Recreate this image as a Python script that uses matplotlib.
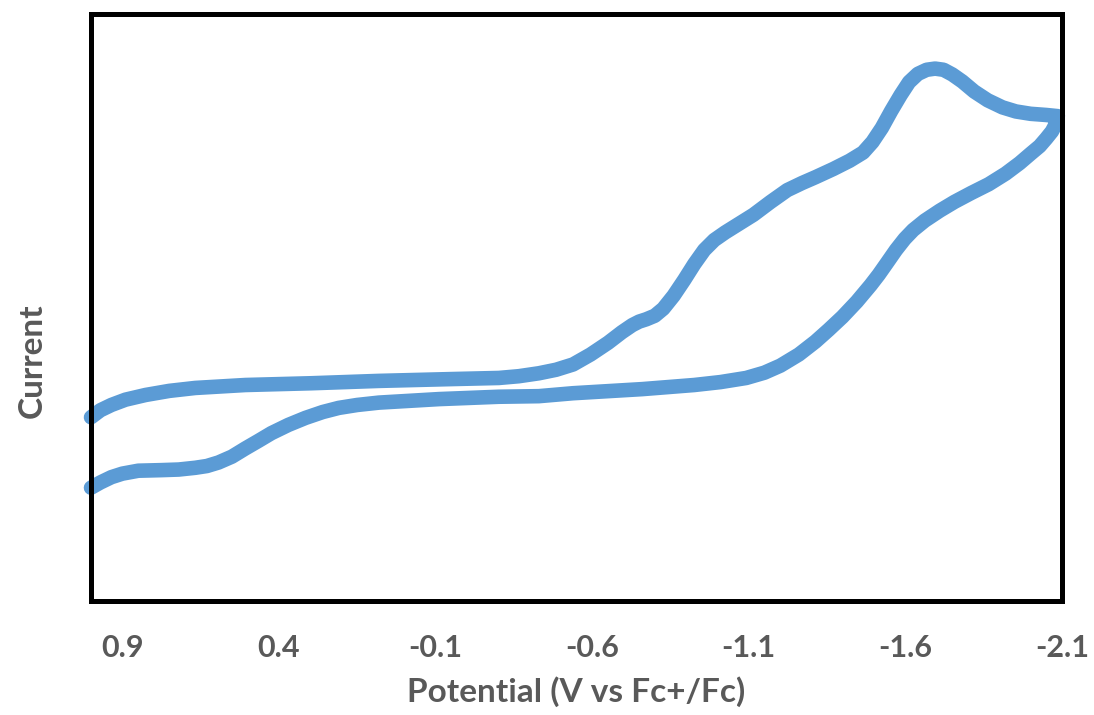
import matplotlib
matplotlib.use("Agg")
import matplotlib.pyplot as plt

# cyclic voltammogram, scan 1.0 V -> -2.09 V and back
potential_fwd = [1.0, 0.97, 0.935, 0.89, 0.826, 0.75, 0.667, 0.507, 0.296, 0.081,
                 -0.143, -0.302, -0.366, -0.430, -0.485, -0.539, -0.595, -0.651,
                 -0.695, -0.728, -0.750, -0.773, -0.800, -0.827, -0.860, -0.894,
                 -0.926, -0.958, -0.990, -1.025, -1.070, -1.115, -1.170, -1.223,
                 -1.270, -1.313, -1.370, -1.422, -1.465, -1.495, -1.525, -1.555,
                 -1.585, -1.612, -1.640, -1.668, -1.695, -1.722, -1.750, -1.782,
                 -1.820, -1.863, -1.910, -1.953, -2.000, -2.050, -2.087]
current_fwd = [3.13, 3.25, 3.34, 3.43, 3.51, 3.58, 3.63, 3.68, 3.71, 3.75,
               3.78, 3.80, 3.83, 3.88, 3.94, 4.03, 4.20, 4.40,
               4.58, 4.70, 4.76, 4.80, 4.86, 4.98, 5.20, 5.47,
               5.74, 5.98, 6.15, 6.28, 6.43, 6.58, 6.80, 7.00,
               7.12, 7.22, 7.36, 7.50, 7.64, 7.82, 8.06, 8.35,
               8.62, 8.84, 8.98, 9.05, 9.07, 9.05, 8.97, 8.85,
               8.68, 8.53, 8.41, 8.34, 8.30, 8.28, 8.26]

potential_rev = [-2.080, -2.068, -2.050, -2.029, -2.000, -1.965, -1.920, -1.866,
                 -1.810, -1.757, -1.710, -1.662, -1.625, -1.598, -1.570, -1.540,
                 -1.515, -1.489, -1.445, -1.399, -1.355, -1.313, -1.260, -1.201,
                 -1.150, -1.092, -1.010, -0.926, -0.760, -0.539, -0.430, -0.302,
                 -0.111, 0.081, 0.150, 0.209, 0.260, 0.315, 0.370, 0.424,
                 0.465, 0.507, 0.550, 0.593, 0.630, 0.667, 0.720, 0.775,
                 0.849, 0.900, 0.935, 0.970, 1.0]
current_rev = [8.12, 8.00, 7.88, 7.75, 7.62, 7.46, 7.28, 7.10,
               6.95, 6.80, 6.65, 6.48, 6.32, 6.17, 5.98, 5.75,
               5.56, 5.38, 5.10, 4.84, 4.62, 4.42, 4.20, 4.01,
               3.89, 3.80, 3.73, 3.68, 3.61, 3.54, 3.49, 3.48,
               3.44, 3.38, 3.34, 3.29, 3.22, 3.12, 3.00, 2.86,
               2.73, 2.60, 2.46, 2.36, 2.30, 2.27, 2.24, 2.23,
               2.22, 2.17, 2.11, 2.02, 1.93]

tick_values = [0.9, 0.4, -0.1, -0.6, -1.1, -1.6, -2.1]

potential = potential_fwd + potential_rev
current = current_fwd + current_rev

plt.rcParams['font.family'] = ['Lato', 'DejaVu Sans']
grey = '#595959'

fig = plt.figure(figsize=(10.94, 7.15), dpi=100)
ax = fig.add_axes([0.0832, 0.1594, 0.8875, 0.8210])

ax.plot(potential, current, color='#5B9BD5', linewidth=10.5,
        solid_joinstyle='round', solid_capstyle='round', clip_on=False)

ax.set_xlim(1.0, -2.1)
ax.set_ylim(0, 10)
ax.set_xticks(tick_values)
ax.set_xticklabels(['%.1f' % v for v in tick_values],
                   fontsize=22, fontweight='bold', color=grey)
ax.set_yticks([])
ax.tick_params(axis='x', length=0, pad=24)

ax.set_xlabel('Potential (V vs Fc+/Fc)', fontsize=24, fontweight='bold',
              color=grey, labelpad=10)
ax.set_ylabel('Current', fontsize=24, fontweight='bold', color=grey)
ax.yaxis.set_label_coords(-0.046, 0.41)

for s in ax.spines.values():
    s.set_linewidth(3.6)
    s.set_color('black')

fig.savefig('out.png', dpi=100)
